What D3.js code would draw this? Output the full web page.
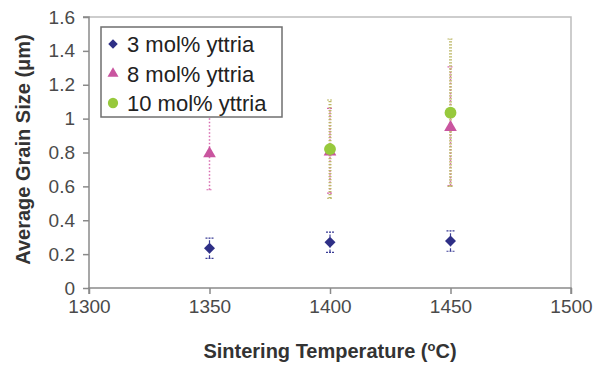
<!DOCTYPE html>
<html>
<head>
<meta charset="utf-8">
<script src="https://cdn.jsdelivr.net/npm/d3@7"></script>
<style>
  html, body { margin: 0; padding: 0; background: #fff; }
  svg { display: block; font-family: "Liberation Sans", Arial, sans-serif; }
  .axis text { fill: #4a4a4a; font-size: 19px; }
  .axis path, .axis line { stroke: #8a8a8a; stroke-width: 1.5; }
  .title { fill: #333; font-size: 20px; font-weight: bold; }
</style>
</head>
<body>
<svg id="chart" width="603" height="367"></svg>
<script>
// temperatures (°C) where measurements were taken
const temps = [1350, 1400, 1450];

// average grain size (µm) and error bar half-widths, per yttria content
const y3 = [0.235, 0.27, 0.277];
const y3err = [0.06, 0.06, 0.06];
const y8 = [0.80, 0.81, 0.955];
const y8err = [0.22, 0.25, 0.35];
const y10 = [null, 0.82, 1.035];
const y10err = [null, 0.29, 0.435];

const xTicks = [1300, 1350, 1400, 1450, 1500];
const yTicks = [0, 0.2, 0.4, 0.6, 0.8, 1, 1.2, 1.4, 1.6];
const seriesNames = ['3 mol% yttria', '8 mol% yttria', '10 mol% yttria'];

const margin = { left: 89, right: 32, top: 17, bottom: 79 };
const width = 603, height = 367;

const svg = d3.select('#chart');

const x = d3.scaleLinear()
	.domain([1300, 1500])
	.range([margin.left, width - margin.right]);
const y = d3.scaleLinear()
	.domain([0, 1.6])
	.range([height - margin.bottom, margin.top]);

// plot border (top / right)
svg.append('path')
	.attr('d', `M${x(1300)},${y(1.6)}H${x(1500)}V${y(0)}`)
	.attr('fill', 'none')
	.attr('stroke', '#bdbdbd')
	.attr('stroke-width', 1.5);

svg.append('g')
	.attr('class', 'axis x')
	.attr('transform', `translate(0, ${y(0)})`)
	.call(d3.axisBottom(x).tickValues(xTicks).tickFormat(d3.format('d')).tickSize(6).tickPadding(6))
	.call(g => g.select('.domain').attr('d', `M${x(1300)},6V0H${x(1500)}V6`));

svg.append('g')
	.attr('class', 'axis y')
	.attr('transform', `translate(${x(1300)}, 0)`)
	.call(d3.axisLeft(y).tickValues(yTicks).tickFormat(d => d3.format('.1~f')(d)).tickSize(6).tickPadding(8))
	.call(g => g.select('.domain').attr('d', `M-6,${y(1.6)}H0V${y(0)}`));

svg.selectAll('.axis text').attr('font-family', '"Liberation Sans", Arial, sans-serif');

// axis titles
const xt = svg.append('text')
	.attr('class', 'title')
	.attr('x', (x(1300) + x(1500)) / 2)
	.attr('y', 358)
	.attr('text-anchor', 'middle');
xt.append('tspan').text('Sintering Temperature (');
xt.append('tspan').attr('font-size', 13).attr('dy', -7).text('o');
xt.append('tspan').attr('dy', 7).text('C)');

svg.append('text')
	.attr('class', 'title')
	.attr('transform', `translate(30, ${(y(0) + y(1.6)) / 2 - 3}) rotate(-90)`)
	.attr('text-anchor', 'middle')
	.text('Average Grain Size (\u03bcm)');

const series = [
	{ vals: y3, err: y3err, color: '#2e2f86', errColor: '#3b3d96', dash: '3,2', ew: 1.2, cap: 4, shape: d3.symbolSquare, rot: 45, size: 60 },
	{ vals: y8, err: y8err, color: '#c9559f', errColor: '#d86bb0', dash: '1.5,2', ew: 1.5, cap: 3, shape: d3.symbolTriangle, rot: 0, size: 70 },
	{ vals: y10, err: y10err, color: '#97c93c', errColor: '#bdb867', dash: '1.2,1.8', ew: 3, cap: 3, shape: d3.symbolCircle, rot: 0, size: 110 },
];

// error bars
series.forEach(s => {
	const pts = temps.map((t, i) => ({ t, v: s.vals[i], e: s.err[i] })).filter(p => p.v != null);
	const g = svg.append('g');
	g.selectAll('line.bar').data(pts).join('line')
		.attr('x1', d => x(d.t)).attr('x2', d => x(d.t))
		.attr('y1', d => y(d.v - d.e)).attr('y2', d => y(d.v + d.e))
		.attr('stroke', s.errColor).attr('stroke-width', s.ew)
		.attr('stroke-dasharray', s.dash);
	['-', '+'].forEach(sign => {
		g.selectAll(null).data(pts).join('line')
			.attr('x1', d => x(d.t) - s.cap).attr('x2', d => x(d.t) + s.cap)
			.attr('y1', d => y(sign === '+' ? d.v + d.e : d.v - d.e))
			.attr('y2', d => y(sign === '+' ? d.v + d.e : d.v - d.e))
			.attr('stroke', s.errColor).attr('stroke-width', 1.2)
			.attr('stroke-dasharray', '2,1');
	});
});

// markers
series.forEach(s => {
	const pts = temps.map((t, i) => ({ t, v: s.vals[i] })).filter(p => p.v != null);
	svg.append('g').selectAll('path').data(pts).join('path')
		.attr('d', d3.symbol().type(s.shape).size(s.size))
		.attr('transform', d => `translate(${x(d.t)}, ${y(d.v) + (s.shape === d3.symbolTriangle ? 1 : 0)}) rotate(${s.rot})`)
		.attr('fill', s.color);
});

// legend
const lg = svg.append('g').attr('transform', 'translate(101, 27)');
lg.append('rect')
	.attr('width', 181).attr('height', 90)
	.attr('fill', '#fff')
	.attr('stroke', '#6f6f6f').attr('stroke-width', 1.5);
seriesNames.forEach((name, i) => {
	const row = lg.append('g').attr('transform', `translate(0, ${17 + i * 29.5})`);
	row.append('path')
		.attr('d', d3.symbol().type(series[i].shape).size(series[i].size * 0.75))
		.attr('transform', `translate(12, 0) rotate(${series[i].rot})`)
		.attr('fill', series[i].color);
	row.append('text')
		.attr('x', 26).attr('y', 8)
		.attr('font-size', 22)
		.attr('fill', '#222')
		.text(name);
});
</script>
</body>
</html>
